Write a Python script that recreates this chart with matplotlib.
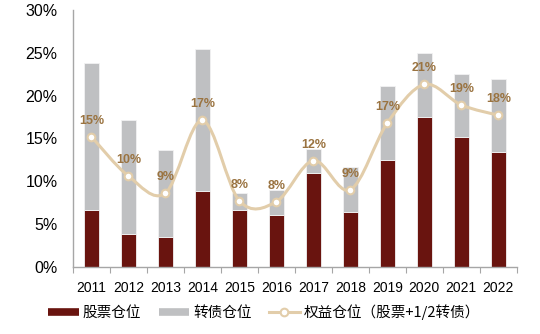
import numpy as np
import matplotlib
matplotlib.use("Agg")
import matplotlib.pyplot as plt
from matplotlib.path import Path
from matplotlib.patches import PathPatch
from matplotlib.lines import Line2D
from matplotlib.ticker import FuncFormatter

plt.rcParams['font.family'] = ['Liberation Sans', 'Noto Sans CJK SC', 'DejaVu Sans']

years = ['2011', '2012', '2013', '2014', '2015', '2016',
         '2017', '2018', '2019', '2020', '2021', '2022']
# total position (stock + convertible), percent
total_pos = [23.8, 17.2, 13.6, 25.4, 8.65, 9.0, 13.8, 11.6, 21.1, 25.0, 22.5, 21.9]
stock_pos = [6.6, 3.8, 3.5, 8.8, 6.6, 6.1, 10.95, 6.4, 12.5, 17.5, 15.2, 13.4]
equity_pos = [15.2, 10.6, 8.6, 17.1, 7.7, 7.6, 12.4, 9.0, 16.8, 21.3, 18.9, 17.7]
equity_labels = ['15%', '10%', '9%', '17%', '8%', '8%', '12%', '9%', '17%', '21%', '19%', '18%']

c_stock = '#69140F'
c_conv = '#BFC0C2'
c_line = '#E2CDAA'
c_label = '#9A7340'

conv_pos = [t - s for t, s in zip(total_pos, stock_pos)]

fig = plt.figure(figsize=(5.4, 3.34), dpi=100)
ax = fig.add_axes([0.135, 0.2015, 0.822, 0.7685])

x = np.arange(len(years))
ax.bar(x, stock_pos, width=0.4, color=c_stock, edgecolor='#F2F2F2', linewidth=0.6, zorder=2)
ax.bar(x, conv_pos, width=0.4, bottom=stock_pos, color=c_conv, edgecolor='#F2F2F2',
       linewidth=0.6, zorder=2)

# smoothed line (Catmull-Rom style bezier through the points)
pts = np.column_stack([x, equity_pos]).astype(float)
verts = [tuple(pts[0])]
codes = [Path.MOVETO]
n = len(pts)
for i in range(n - 1):
    p0 = pts[i - 1] if i > 0 else pts[i]
    p1 = pts[i]
    p2 = pts[i + 1]
    p3 = pts[i + 2] if i + 2 < n else pts[i + 1]
    c1 = p1 + (p2 - p0) / 6.0
    c2 = p2 - (p3 - p1) / 6.0
    verts += [tuple(c1), tuple(c2), tuple(p2)]
    codes += [Path.CURVE4] * 3
ax.add_patch(PathPatch(Path(verts, codes), facecolor='none', edgecolor=c_line,
                       linewidth=2.2, zorder=3, capstyle='round'))
ax.plot(x, equity_pos, linestyle='none', marker='o', markersize=5.5,
        markerfacecolor='white', markeredgecolor=c_line, markeredgewidth=1.5, zorder=4)

for xi, yi, lab in zip(x, equity_pos, equity_labels):
    ax.annotate(lab, (xi, yi), xytext=(0, 11.5), textcoords='offset points',
                ha='center', va='center', fontsize=9, fontweight='bold',
                color=c_label, zorder=5)

ax.set_xlim(-0.5, len(years) - 0.5)
ax.set_ylim(0, 30)
ax.set_yticks(np.arange(0, 31, 5))
ax.yaxis.set_major_formatter(FuncFormatter(lambda v, p: f'{v:.0f}%'))
ax.tick_params(axis='y', length=0, pad=11, labelsize=11.5)
ax.set_xticks(x)
ax.set_xticklabels(years)
ax.set_xticks(np.arange(-0.5, len(years), 1), minor=True)
ax.tick_params(axis='x', which='major', length=0, pad=10, labelsize=10)
ax.tick_params(axis='x', which='minor', length=4, width=0.8, color='#A6A6A6', direction='out')

for s in ['top', 'right']:
    ax.spines[s].set_visible(False)
for s in ['left', 'bottom']:
    ax.spines[s].set_color('#A6A6A6')
    ax.spines[s].set_linewidth(1.0)

handles = [
    Line2D([], [], color=c_stock, linewidth=5.5, solid_capstyle='butt'),
    Line2D([], [], color=c_conv, linewidth=5.5, solid_capstyle='butt'),
    Line2D([], [], color=c_line, linewidth=2.2, marker='o', markersize=5.5,
           markerfacecolor='white', markeredgecolor=c_line, markeredgewidth=1.5),
]
names = ['股票仓位', '转债仓位', '权益仓位（股票+1/2转债）']
fig.legend(handles, names, loc='center', bbox_to_anchor=(0.489, 0.066), ncol=3,
           frameon=False, handlelength=2.1, handletextpad=0.25,
           columnspacing=1.2, prop={'family': ['Noto Sans CJK SC', 'DejaVu Sans'], 'size': 10.5})

fig.savefig('out.png', dpi=100)
